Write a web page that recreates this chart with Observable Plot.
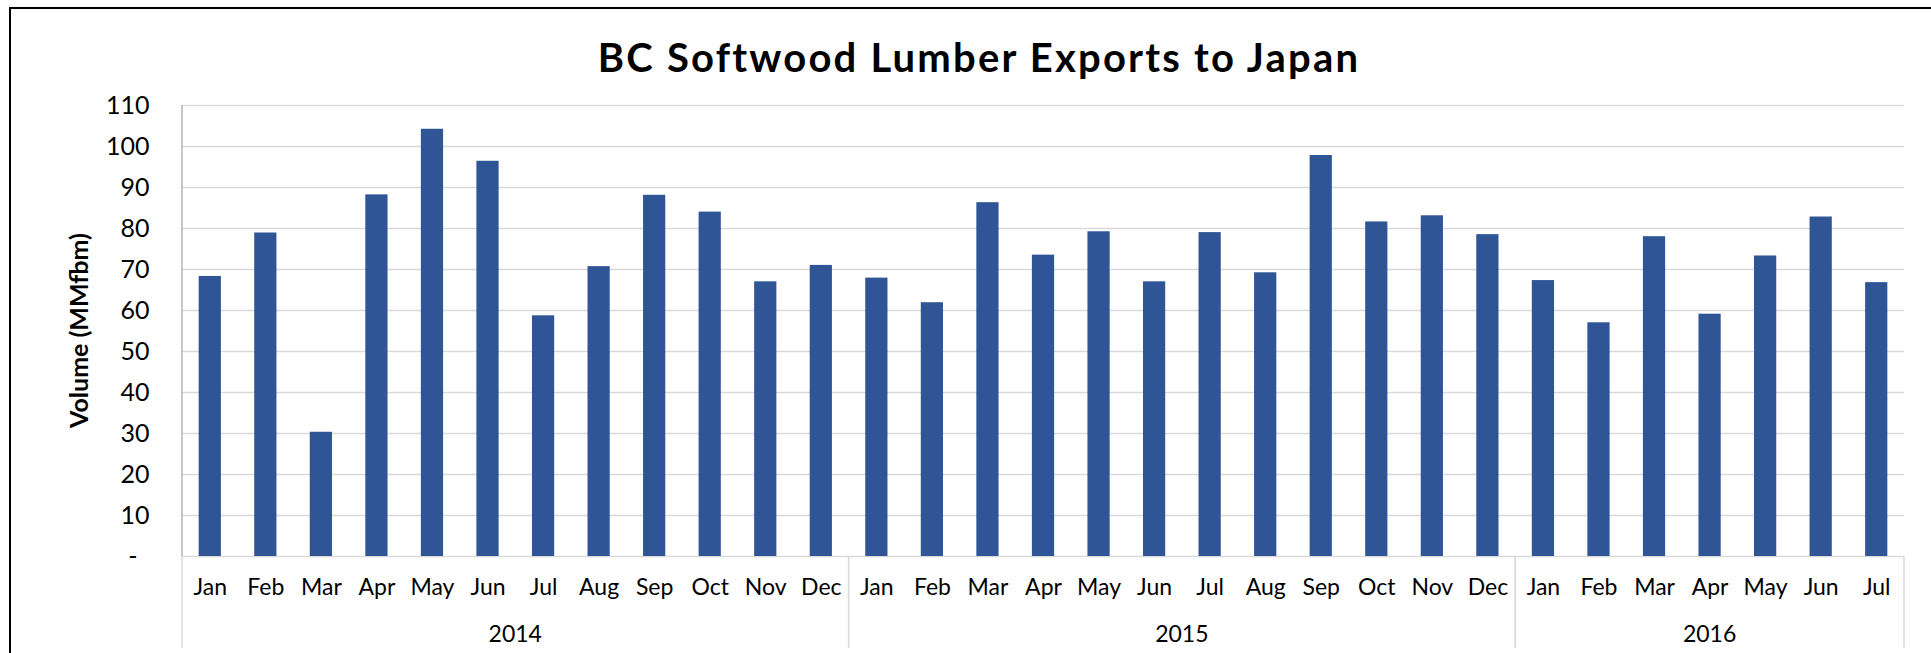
<!DOCTYPE html>
<html>
<head>
<meta charset="utf-8">
<script src="https://cdn.jsdelivr.net/npm/d3@7"></script>
<script src="https://cdn.jsdelivr.net/npm/@observablehq/plot@0.6"></script>
<style>
  html, body { margin: 0; padding: 0; background: #fff; overflow: hidden; }
  #wrap { position: relative; width: 1931px; height: 653px; overflow: hidden; background: #fff; }
  #border { position: absolute; left: 9px; top: 7px; width: 1940px; height: 700px; border: 2px solid #000; box-sizing: border-box; }
  #title { position: absolute; left: 979px; top: 37px; transform: translateX(-50%); white-space: nowrap;
           font-family: Lato, sans-serif; font-weight: 700; font-size: 40px; line-height: 40px; letter-spacing: 2.2px; color: #000; }
  #chart { position: absolute; left: 0; top: 0; }
</style>
</head>
<body>
<div id="wrap">
  <div id="border"></div>
  <div id="chart"></div>
  <div id="title">BC Softwood Lumber Exports to Japan</div>
</div>
<script>
// ---- data ----
const periodMonths = ["Jan","Feb","Mar","Apr","May","Jun","Jul","Aug","Sep","Oct","Nov","Dec",
                      "Jan","Feb","Mar","Apr","May","Jun","Jul","Aug","Sep","Oct","Nov","Dec",
                      "Jan","Feb","Mar","Apr","May","Jun","Jul"];
const periodYears = ["2014","2014","2014","2014","2014","2014","2014","2014","2014","2014","2014","2014",
                     "2015","2015","2015","2015","2015","2015","2015","2015","2015","2015","2015","2015",
                     "2016","2016","2016","2016","2016","2016","2016"];
const volumes = [68.3, 78.9, 30.3, 88.2, 104.2, 96.4, 58.7, 70.7, 88.1, 84.0, 67.0, 71.0,
                 67.9, 61.9, 86.3, 73.5, 79.2, 67.0, 79.0, 69.2, 97.8, 81.6, 83.1, 78.5,
                 67.3, 57.0, 78.0, 59.1, 73.3, 82.8, 66.8];
const yearLabels = ["2014", "2015", "2016"];
const yTicks = [10, 20, 30, 40, 50, 60, 70, 80, 90, 100, 110];
const gridTicks = [0, 10, 20, 30, 40, 50, 60, 70, 80, 90, 100, 110];
const yLabel = "Volume (MMfbm)";

const keys = volumes.map((v, i) => periodYears[i] + "-" + periodMonths[i]);
const monthOf = Object.fromEntries(keys.map((k, i) => [k, periodMonths[i]]));
const data = volumes.map((v, i) => ({key: keys[i], month: periodMonths[i], year: periodYears[i], value: v}));

const chart = Plot.plot({
  width: 1931,
  height: 653,
  marginLeft: 182,
  marginRight: 27,
  marginTop: 105,
  marginBottom: 97,
  style: {fontFamily: "Lato, sans-serif", background: "transparent", color: "#000", overflow: "visible"},
  x: {domain: keys, paddingInner: 0.6, paddingOuter: 0.3, round: false, axis: null},
  y: {domain: [0, 110], axis: null},
  marks: [
    Plot.gridY({ticks: gridTicks, stroke: "#D9D9D9", strokeOpacity: 1, strokeWidth: 1.4}),
    Plot.barY(data, {x: "key", y: "value", fill: "#2F5597"}),
    Plot.axisX({tickSize: 0, tickPadding: 22, tickFormat: k => monthOf[k], fontSize: 23, fill: "#000", label: null}),
    Plot.axisY({ticks: yTicks, tickSize: 0, tickPadding: 33, fontSize: 25, fill: "#000", label: null}),
    Plot.axisY({ticks: [0], tickFormat: () => "-", tickSize: 0, tickPadding: 45, fontSize: 25, fill: "#000", label: null})
  ]
});
document.getElementById("chart").appendChild(chart);

// ---- extras positioned via the Plot scales ----
const xs = chart.scale("x"), ys = chart.scale("y");
const gap = xs.step - xs.bandwidth;
const svg = d3.select(chart);
const g = svg.append("g");
const yTop = ys.apply(110), yBase = ys.apply(0), yBottom = yBase + 92;
const leftEdge = xs.apply(keys[0]) - gap / 2;

// value axis line
g.append("line").attr("x1", leftEdge).attr("x2", leftEdge).attr("y1", yTop).attr("y2", yBase)
  .attr("stroke", "#AFAFAF").attr("stroke-width", 1.4);

// year groups
yearLabels.forEach(yr => {
  const ks = keys.filter((k, i) => periodYears[i] === yr);
  const x0 = xs.apply(ks[0]) - gap / 2;
  const x1 = xs.apply(ks[ks.length - 1]) + xs.bandwidth + gap / 2;
  g.append("line").attr("x1", x0).attr("x2", x0).attr("y1", yBase).attr("y2", yBottom)
    .attr("stroke", "#D9D9D9").attr("stroke-width", 1.4);
  g.append("line").attr("x1", x1).attr("x2", x1).attr("y1", yBase).attr("y2", yBottom)
    .attr("stroke", "#D9D9D9").attr("stroke-width", 1.4);
  g.append("text").attr("x", (x0 + x1) / 2).attr("y", yBase + 86)
    .attr("text-anchor", "middle").attr("font-size", 23).attr("font-family", "Lato, sans-serif")
    .attr("fill", "#000").text(yr);
});

// y label
g.append("text").attr("transform", `translate(79,${(yTop + yBase) / 2}) rotate(-90)`)
  .attr("text-anchor", "middle").attr("dy", "0.35em")
  .attr("font-size", 25).attr("font-weight", 700).attr("font-family", "Lato, sans-serif")
  .attr("fill", "#000").text(yLabel);
</script>
</body>
</html>
